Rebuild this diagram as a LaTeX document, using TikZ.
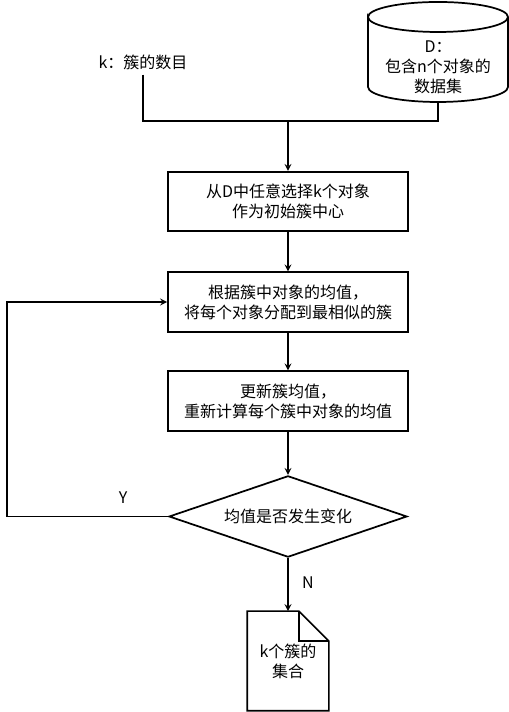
\documentclass[tikz,border=0pt]{standalone}
\usepackage{fontspec}
\setmainfont{Noto Sans CJK SC}
\usetikzlibrary{arrows, shapes.geometric, positioning}

\begin{document}
\begin{tikzpicture}[
    x=0.75pt, y=0.75pt,
    line width=1.3pt,
    >=stealth,
    every node/.style={align=center, font=\fontsize{12}{15}\selectfont},
    process/.style={rectangle, draw, minimum width=180pt, minimum height=44.5pt},
    decision/.style={diamond, draw, aspect=2.9, minimum width=178.5pt, minimum height=61pt, inner sep=0pt}
]
\useasboundingbox (0,0) rectangle (509,712);

% Nodes
\node (num) at (143,650) {k：簇的数目};
\node (data) at (438,645) {D：\\包含n个对象的\\数据集};
\node[process] (init) at (288,510.5) {从D中任意选择k个对象\\作为初始簇中心};
\node[process] (assign) at (288,410) {根据簇中对象的均值，\\将每个对象分配到最相似的簇};
\node[process] (update) at (288,311) {更新簇均值，\\重新计算每个簇中对象的均值};
\node[decision] (check) at (288,195.5) {均值是否发生变化};
\node[minimum width=60pt, minimum height=73.5pt] (result) at (288,51) {k个簇的\\集合};
\node (yes) at (123,214) {Y};
\node (no) at (308,129) {N};
\coordinate (dbase) at (438,610);
\coordinate (join) at (288,591);

% Shapes
\draw (368,695) arc[start angle=180, end angle=-180, x radius=52.5pt, y radius=11.25pt]
    -- (368,625) arc[start angle=180, end angle=360, x radius=52.5pt, y radius=11.25pt]
    -- (508,695);
\draw (result.north west) -- ([xshift=-22.5pt]result.north east)
    -- ([yshift=-22.5pt]result.north east) -- (result.south east)
    -- (result.south west) -- cycle;
\draw ([xshift=-22.5pt]result.north east) |- ([yshift=-22.5pt]result.north east);

% Arrows
\draw (num) -- (num |- join) -- (dbase |- join) -- (dbase);
\draw[->] (join) -- (init);
\draw[->] (init) -- (assign);
\draw[->] (assign) -- (update);
\draw[->] (update) -- (check);
\draw[->] (check) -- (result);
\draw[->] (check.west) -- ++(-161,0) |- (assign.west);

\end{tikzpicture}
\end{document}
